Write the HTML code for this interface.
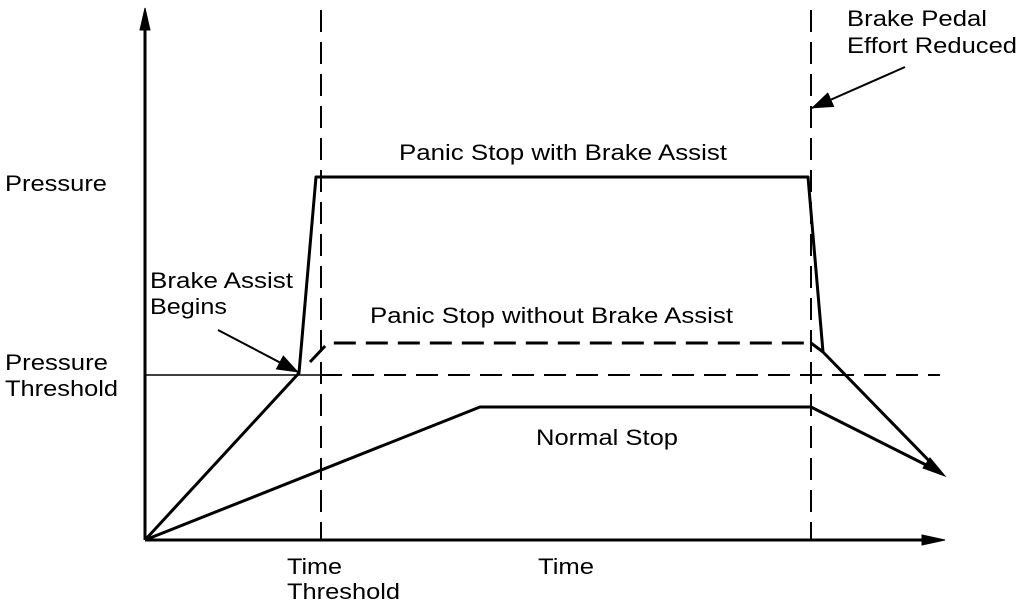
<!DOCTYPE html>
<html><head><style>body{margin:0;background:#fff}svg{display:block}text{font-family:"Liberation Sans",Arial,sans-serif;font-size:22px;fill:#000}</style></head><body>
<svg width="1024" height="608" viewBox="0 0 1024 608" xmlns="http://www.w3.org/2000/svg">
<defs>
<marker id="b" markerWidth="22" markerHeight="16" refX="21" refY="8" orient="auto" markerUnits="userSpaceOnUse"><path d="M0,0 L22,8 L0,16 z" fill="#000"/></marker>
</defs>
<g stroke="#000" fill="none">
<line x1="145" y1="540" x2="145" y2="12" stroke-width="3"/>
<path d="M140,30 L145,8 L150,30 z" fill="#000"/>
<line x1="145" y1="540" x2="928" y2="540" stroke-width="3"/>
<path d="M922,535 L945,540 L922,545 z" fill="#000"/>
<line x1="321" y1="10" x2="321" y2="540" stroke-width="2" stroke-dasharray="22,10"/>
<line x1="811" y1="10" x2="811" y2="540" stroke-width="2" stroke-dasharray="22,10"/>
<line x1="145" y1="375" x2="320" y2="375" stroke-width="1.5"/>
<line x1="320" y1="375" x2="940" y2="375" stroke-width="2" stroke-dasharray="22,10"/>
<polyline points="145,540 299,373 316,177 808,177 823,352 940,472" stroke-width="3" stroke-linejoin="round"/>
<path d="M930,458 L945,476 L923,468 z" fill="#000"/>
<polyline points="310,362 328,343 811,343" stroke-width="3" stroke-dasharray="22,10"/>
<line x1="811" y1="343" x2="823" y2="352" stroke-width="3"/>
<polyline points="145,540 480,407 811,407 940,472" stroke-width="3"/>
<line x1="218" y1="330" x2="298" y2="372" stroke-width="2" marker-end="url(#b)"/>
<line x1="905" y1="67" x2="812" y2="108" stroke-width="2" marker-end="url(#b)"/>
</g>
<g lengthAdjust="spacingAndGlyphs">
<text x="847" y="26" textLength="140" lengthAdjust="spacingAndGlyphs">Brake Pedal</text>
<text x="847" y="53" textLength="170" lengthAdjust="spacingAndGlyphs">Effort Reduced</text>
<text x="399" y="160" textLength="328" lengthAdjust="spacingAndGlyphs">Panic Stop with Brake Assist</text>
<text x="5" y="191" textLength="102" lengthAdjust="spacingAndGlyphs">Pressure</text>
<text x="150" y="288" textLength="143" lengthAdjust="spacingAndGlyphs">Brake Assist</text>
<text x="150" y="314" textLength="77" lengthAdjust="spacingAndGlyphs">Begins</text>
<text x="370" y="323" textLength="363" lengthAdjust="spacingAndGlyphs">Panic Stop without Brake Assist</text>
<text x="5" y="370" textLength="103" lengthAdjust="spacingAndGlyphs">Pressure</text>
<text x="5" y="396" textLength="113" lengthAdjust="spacingAndGlyphs">Threshold</text>
<text x="536" y="445" textLength="142" lengthAdjust="spacingAndGlyphs">Normal Stop</text>
<text x="287" y="574" textLength="55" lengthAdjust="spacingAndGlyphs">Time</text>
<text x="287" y="599" textLength="113" lengthAdjust="spacingAndGlyphs">Threshold</text>
<text x="538" y="574" textLength="56" lengthAdjust="spacingAndGlyphs">Time</text>
</g>
</svg>
</body></html>
